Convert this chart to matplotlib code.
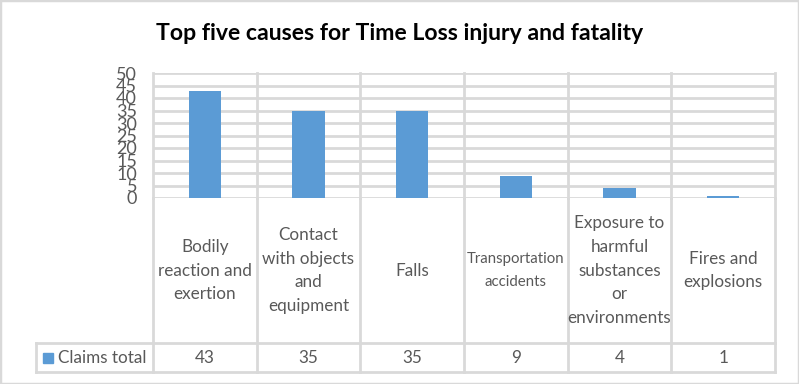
import matplotlib.pyplot as plt
from matplotlib.patches import Rectangle

# chart data
causes = ["Bodily\nreaction and\nexertion",
          "Contact\nwith objects\nand\nequipment",
          "Falls",
          "Transportation\naccidents",
          "Exposure to\nharmful\nsubstances\nor\nenvironments",
          "Fires and\nexplosions"]
claims = [43, 35, 35, 9, 4, 1]
series_name = "Claims total"
y_ticks = list(range(0, 55, 5))
title = "Top five causes for Time Loss injury and fatality"

bar_color = "#5B9BD5"
grid_color = "#D9D9D9"
text_color = "#595959"

plt.rcParams['font.family'] = ['Lato', 'DejaVu Sans']

W, H = 799, 384
fig = plt.figure(figsize=(W / 100, H / 100), dpi=100)


def fx(px):
    return px / W


def fy(py):
    return 1 - py / H


# layout in pixels (plot area, table)
plot_l, plot_r, plot_t, plot_b = 153, 775, 73, 198
tab_l, row_mid, tab_b = 36, 343, 372
n = len(causes)
cw = (plot_r - plot_l) / n

# --- bar area ---
ax = fig.add_axes([fx(plot_l), fy(plot_b), fx(plot_r) - fx(plot_l), fy(plot_t) - fy(plot_b)])
ax.bar(range(n), claims, width=0.31, color=bar_color, zorder=3)
ax.set_xlim(-0.5, n - 0.5)
ax.set_ylim(0, 50)
ax.set_yticks(y_ticks)
ax.set_xticks([])
ax.tick_params(axis='y', length=0, pad=11.5, labelsize=13, labelcolor=text_color)
ax.yaxis.grid(True, color=grid_color, linewidth=2, zorder=0)
for s in ax.spines.values():
    s.set_visible(False)
for i in range(n + 1):
    ax.axvline(i - 0.5, color=grid_color, linewidth=2, zorder=1, clip_on=False)

# --- data table under the plot ---
tx = fig.add_axes([fx(tab_l), fy(tab_b), fx(plot_r) - fx(tab_l), fy(plot_b) - fy(tab_b)])
x_left = -0.5 - (plot_l - tab_l) / cw
tx.set_xlim(x_left, n - 0.5)
tx.set_ylim(tab_b, plot_b)
tx.axis('off')
lw = 2
for i in range(n + 1):
    tx.plot([i - 0.5, i - 0.5], [plot_b, tab_b], color=grid_color, lw=lw, clip_on=False)
tx.plot([x_left, n - 0.5], [row_mid, row_mid], color=grid_color, lw=lw, clip_on=False)
tx.plot([x_left, n - 0.5], [tab_b, tab_b], color=grid_color, lw=lw, clip_on=False)
tx.plot([x_left, x_left], [row_mid, tab_b], color=grid_color, lw=lw, clip_on=False)

cat_mid = (plot_b + row_mid) / 2
val_mid = (row_mid + tab_b) / 2
for i, (lab, v) in enumerate(zip(causes, claims)):
    longest = max(len(s) for s in lab.split("\n"))
    # long words get shrunk to fit the cell, like Excel does
    fs, ls = (10.8, 1.75) if longest > 13 else (12.3, 1.58)
    tx.text(i, cat_mid, lab, ha='center', va='center', fontsize=fs,
            color=text_color, linespacing=ls)
    tx.text(i, val_mid, str(v), ha='center', va='center', fontsize=12.3,
            color=text_color)

# legend key in the table
key_x = x_left + 7 / cw
tx.add_patch(Rectangle((key_x, val_mid - 5), 10 / cw, 10, color=bar_color, clip_on=False))
tx.text(key_x + 15 / cw, val_mid, series_name, ha='left', va='center',
        fontsize=12.3, color=text_color)

fig.text(0.5, fy(33), title, ha='center', va='center', fontsize=16.6,
         fontweight='bold', color='black')

# chart border
fig.add_artist(Rectangle((0, 0), 1, 1, transform=fig.transFigure, fill=False,
                         edgecolor=grid_color, linewidth=2.5))

fig.savefig("out.png", dpi=100)
